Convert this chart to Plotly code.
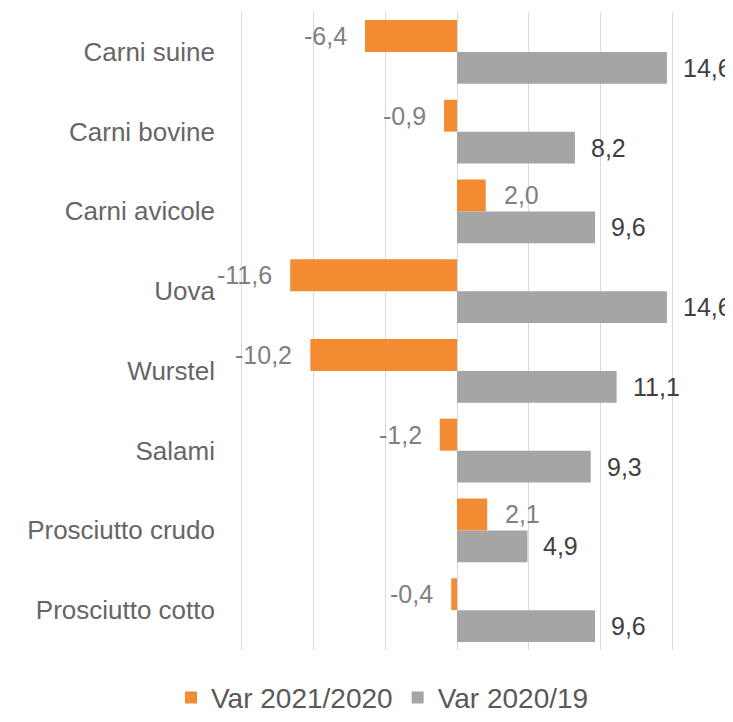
import plotly.graph_objects as go

categories = ["Carni suine", "Carni bovine", "Carni avicole", "Uova", "Wurstel",
              "Salami", "Prosciutto crudo", "Prosciutto cotto"]
var_2021_2020 = [-6.4, -0.9, 2.0, -11.6, -10.2, -1.2, 2.1, -0.4]
var_2020_19 = [14.6, 8.2, 9.6, 14.6, 11.1, 9.3, 4.9, 9.6]

series_names = ["Var 2021/2020", "Var 2020/19"]
orange = "#F38B32"
grey = "#A5A5A5"
FONT = "Liberation Sans, Arial, sans-serif"

def fmt(v):
    return f"{v:.1f}".replace(".", ",")

fig = go.Figure()
fig.add_trace(go.Bar(y=categories, x=var_2021_2020, orientation="h",
                     name=series_names[0], marker=dict(color=orange, line=dict(width=0))))
fig.add_trace(go.Bar(y=categories, x=var_2020_19, orientation="h",
                     name=series_names[1], marker=dict(color=grey, line=dict(width=0))))

annotations = []
for cat, v in zip(categories, var_2021_2020):
    annotations.append(dict(x=v, y=cat, xref="x", yref="y", text=fmt(v), showarrow=False,
                            xanchor="right" if v < 0 else "left",
                            xshift=-16 if v < 0 else 16, yshift=16,
                            font=dict(family=FONT, size=25, color="#808080")))
for cat, v in zip(categories, var_2020_19):
    annotations.append(dict(x=v, y=cat, xref="x", yref="y", text=fmt(v), showarrow=False,
                            xanchor="left", xshift=14, yshift=-16,
                            font=dict(family=FONT, size=25, color="#404040")))

# page body has an 8px margin, so the figure is shrunk by 8px to fit the window
fig.update_layout(
    width=725, height=714,
    margin=dict(l=229, r=56, t=4, b=72, autoexpand=False),
    paper_bgcolor="white", plot_bgcolor="white",
    barmode="group", bargap=0.2, bargroupgap=0,
    font=dict(family=FONT, size=26, color="#666666"),
    showlegend=True,
    legend=dict(orientation="h", x=-0.15, xanchor="left", y=-0.075, yanchor="middle",
                font=dict(family=FONT, size=28, color="#595959"),
                bgcolor="rgba(0,0,0,0)"),
    annotations=annotations,
)
fig.update_xaxes(range=[-15.3, 15.3], dtick=5, tick0=0, showticklabels=False,
                 showgrid=True, gridcolor="#D9D9D9", gridwidth=1,
                 zeroline=True, zerolinecolor="#D9D9D9", zerolinewidth=1,
                 showline=False, fixedrange=True)
fig.update_yaxes(autorange="reversed", showgrid=False, showline=False, ticks="",
                 ticklabelstandoff=21, automargin=False,
                 tickfont=dict(family=FONT, size=26, color="#666666"))

fig.write_html("out.html")
